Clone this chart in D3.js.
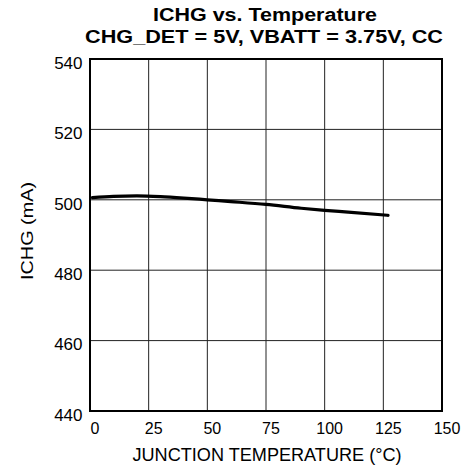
<!DOCTYPE html>
<html><head><meta charset="utf-8">
<script src="https://cdn.jsdelivr.net/npm/d3@7"></script>
<style>body{margin:0;background:#fff}svg{display:block}text{font-family:"Liberation Sans",Arial,sans-serif;fill:#000}</style>
</head><body><svg id="c" width="468" height="468"></svg>
<script>
const temps = [1, 10, 20, 30, 40, 50, 60, 75, 90, 100, 110, 127];
const ichg = [500.6, 501.0, 501.1, 500.9, 500.5, 500.0, 499.5, 498.7, 497.6, 497.0, 496.5, 495.6];
const xTicks = [0, 25, 50, 75, 100, 125, 150];
const yTicks = [440, 460, 480, 500, 520, 540];

const svg = d3.select("#c");
const L = 90, R = 442, T = 59, B = 411;
const x = d3.scaleLinear().domain([0, 150]).range([L, R]);
const y = d3.scaleLinear().domain([440, 540]).range([B, T]);

const g = svg.append("g");
g.selectAll(".vg").data(xTicks.slice(1, -1)).enter().append("line")
  .attr("x1", d => x(d)).attr("x2", d => x(d)).attr("y1", T).attr("y2", B)
  .attr("stroke", "#222").attr("stroke-width", 1);
g.selectAll(".hg").data(yTicks.slice(1, -1)).enter().append("line")
  .attr("y1", d => y(d)).attr("y2", d => y(d)).attr("x1", L).attr("x2", R)
  .attr("stroke", "#222").attr("stroke-width", 1);
svg.append("rect").attr("x", L).attr("y", T).attr("width", R - L).attr("height", B - T)
  .attr("fill", "none").attr("stroke", "#000").attr("stroke-width", 2);

const line = d3.line().x((d, i) => x(temps[i])).y(d => y(d)).curve(d3.curveMonotoneX);
svg.append("path").datum(ichg).attr("d", line).attr("fill", "none")
  .attr("stroke", "#000").attr("stroke-width", 3.2).attr("stroke-linecap", "round");

const xa = d3.axisBottom(x).tickValues(xTicks).tickSize(0).tickPadding(0);
svg.append("g").attr("transform", `translate(4.5,${B})`).call(xa)
  .call(s => s.select(".domain").remove())
  .selectAll("text").attr("font-size", 16).attr("dy", null).attr("y", 23)
  .attr("font-family", "Liberation Sans, Arial, sans-serif");
const ya = d3.axisLeft(y).tickValues(yTicks).tickSize(0).tickPadding(0);
svg.append("g").attr("transform", `translate(${L},0)`).call(ya)
  .call(s => s.select(".domain").remove())
  .selectAll("text").attr("font-size", 17).attr("dy", null).attr("y", 9.3).attr("x", -7.5)
  .attr("font-family", "Liberation Sans, Arial, sans-serif");

function txt(xp, yp, s, size, len, bold) {
  return svg.append("text").attr("x", xp).attr("y", yp).attr("text-anchor", "middle")
    .attr("font-weight", bold ? "bold" : "normal").attr("font-size", size)
    .attr("textLength", len).attr("lengthAdjust", "spacingAndGlyphs").text(s);
}
txt(265, 20.7, "ICHG vs. Temperature", 18, 224, true);
txt(264, 42.5, "CHG_DET = 5V, VBATT = 3.75V, CC", 18, 358, true);
txt(267, 461, "JUNCTION TEMPERATURE  (°C)", 18, 269, false);
svg.append("text").attr("transform", "translate(33.3,231) rotate(-90)").attr("text-anchor", "middle")
  .attr("font-size", 16).attr("textLength", 98).attr("lengthAdjust", "spacingAndGlyphs").text("ICHG (mA)");
</script></body></html>
